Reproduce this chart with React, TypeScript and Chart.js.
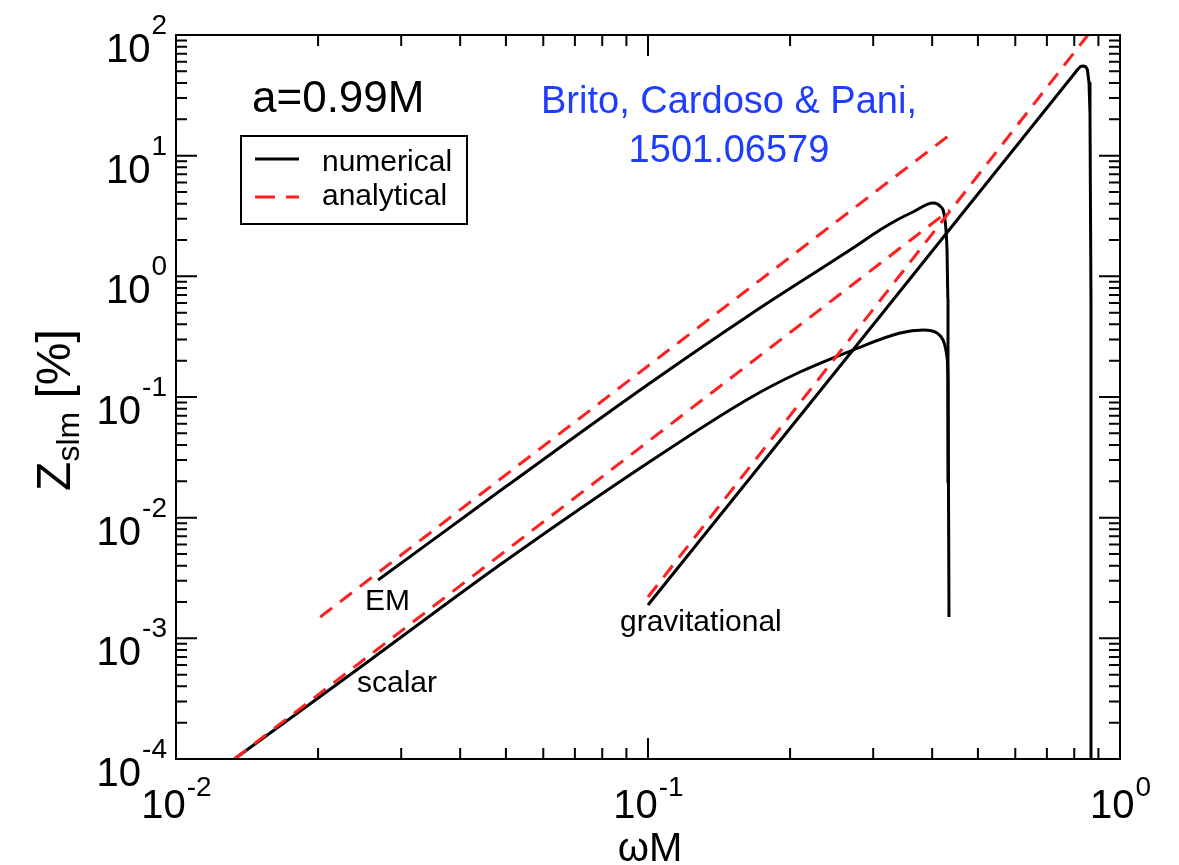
import React, { useEffect, useRef } from 'react';
import { Chart, registerables } from 'chart.js';

Chart.register(...registerables);

// ---- data (ωM, Z_slm in %) ----
const emAnalyticalX = [0.0202, 0.432];
const emAnalyticalY = [0.0015, 14.5];
const scalarAnalyticalX = [0.0133, 0.436];
const scalarAnalyticalY = [0.0001, 3.55];
const gravAnalyticalX = [0.1, 0.855];
const gravAnalyticalY = [0.0022, 100];

const emNumericalX = [0.0268, 0.05, 0.1, 0.1644, 0.2718, 0.31, 0.3368, 0.3641, 0.4016, 0.4155, 0.4258, 0.43, 0.4321, 0.4321];
const emNumericalY = [0.00304, 0.0181, 0.127, 0.481, 1.717, 2.421, 2.93, 3.414, 4.054, 3.828, 2.93, 1.653, 0.637, 0.0194];

const scalarNumericalX = [0.0133, 0.0258, 0.0485, 0.101, 0.1644, 0.2099, 0.2718, 0.342, 0.383, 0.4095, 0.4217, 0.43, 0.4321, 0.4342];
const scalarNumericalY = [0.0001, 0.000662, 0.00405, 0.0292, 0.0982, 0.1611, 0.245, 0.339, 0.359, 0.339, 0.297, 0.2146, 0.1306, 0.0015];

const gravNumericalX = [0.1, 0.2718, 0.815, 0.825, 0.835, 0.846, 0.853, 0.8598, 0.8638, 0.868, 0.868];
const gravNumericalY = [0.00189, 0.245, 52.3, 54.8, 55.3, 54.5, 51.5, 40.0, 22.6, 0.637, 0.00005];

const xDecades = [-2, -1, 0];
const yDecades = [-4, -3, -2, -1, 0, 1, 2];

const legendLabels = ['numerical', 'analytical'];
const curveLabels = ['EM', 'scalar', 'gravitational'];
const spinLabel = 'a=0.99M';
const creditLines = ['Brito, Cardoso & Pani,', '1501.06579'];

const FONT = '"Liberation Sans", Arial, Helvetica, sans-serif';
const RED = '#ff1f1f';

const pts = (xs: number[], ys: number[]) => xs.map((x, i) => ({ x, y: ys[i] }));

const decorPlugin = {
  id: 'decor',
  afterDraw(chart: any) {
    const ctx = chart.ctx as CanvasRenderingContext2D;
    const xs = chart.scales.x;
    const ys = chart.scales.y;
    const { left, right, top, bottom } = chart.chartArea;
    ctx.save();
    ctx.strokeStyle = '#000';
    ctx.fillStyle = '#000';
    ctx.lineWidth = 2;
    ctx.strokeRect(left, top, right - left, bottom - top);

    const majorLen = 21;
    const minorLen = 11;
    ctx.beginPath();
    xDecades.forEach((d) => {
      for (let k = 1; k <= 9; k++) {
        const v = k * Math.pow(10, d);
        if (v > 1.0000001) break;
        const px = xs.getPixelForValue(v);
        const len = k === 1 ? majorLen : minorLen;
        ctx.moveTo(px, bottom);
        ctx.lineTo(px, bottom - len);
        ctx.moveTo(px, top);
        ctx.lineTo(px, top + len);
      }
    });
    yDecades.forEach((d) => {
      for (let k = 1; k <= 9; k++) {
        const v = k * Math.pow(10, d);
        if (v > 100.0001) break;
        const py = ys.getPixelForValue(v);
        const len = k === 1 ? majorLen : minorLen;
        ctx.moveTo(left, py);
        ctx.lineTo(left + len, py);
        ctx.moveTo(right, py);
        ctx.lineTo(right - len, py);
      }
    });
    ctx.stroke();

    // tick labels
    const baseFont = `40px ${FONT}`;
    const supFont = `28px ${FONT}`;
    ctx.textBaseline = 'alphabetic';
    ctx.textAlign = 'left';
    yDecades.forEach((d) => {
      const py = ys.getPixelForValue(Math.pow(10, d));
      const exp = String(d);
      ctx.font = baseFont;
      const w1 = ctx.measureText('10').width;
      ctx.font = supFont;
      const w2 = ctx.measureText(exp).width;
      const x0 = left - 10 - w1 - w2;
      ctx.font = baseFont;
      ctx.fillText('10', x0, py + 27);
      ctx.font = supFont;
      ctx.fillText(exp, x0 + w1 + 1, py - 1);
    });
    xDecades.forEach((d) => {
      const px = xs.getPixelForValue(Math.pow(10, d));
      const exp = String(d);
      ctx.font = baseFont;
      const w1 = ctx.measureText('10').width;
      ctx.font = supFont;
      const w2 = ctx.measureText(exp).width;
      const x0 = px - (w1 + w2) / 2;
      ctx.font = baseFont;
      ctx.fillText('10', x0, bottom + 59);
      ctx.font = supFont;
      ctx.fillText(exp, x0 + w1 + 1, bottom + 37);
    });

    // x title
    ctx.font = `40px ${FONT}`;
    ctx.textAlign = 'center';
    ctx.fillText('ωM', xs.getPixelForValue(0.1) + 2, 861);

    // y title (rotated)
    ctx.save();
    ctx.translate(70, 410);
    ctx.rotate(-Math.PI / 2);
    ctx.textAlign = 'left';
    const zFont = `48px ${FONT}`;
    const subFont = `32px ${FONT}`;
    ctx.font = zFont;
    const wz = ctx.measureText('Z').width;
    const wp = ctx.measureText(' [%]').width;
    ctx.font = subFont;
    const ws = ctx.measureText('slm').width;
    const total = wz + ws + wp;
    let cx = -total / 2;
    ctx.font = zFont;
    ctx.fillText('Z', cx, 0);
    cx += wz;
    ctx.font = subFont;
    ctx.fillText('slm', cx, 9);
    cx += ws;
    ctx.font = zFont;
    ctx.fillText(' [%]', cx, 0);
    ctx.restore();

    // spin label
    ctx.textAlign = 'left';
    ctx.font = `44px ${FONT}`;
    ctx.fillText(spinLabel, 252, 112);

    // legend
    ctx.lineWidth = 2;
    ctx.strokeRect(241, 136, 226, 88);
    ctx.lineWidth = 3;
    ctx.beginPath();
    ctx.moveTo(255, 159);
    ctx.lineTo(299, 159);
    ctx.stroke();
    ctx.strokeStyle = RED;
    ctx.setLineDash([20, 11]);
    ctx.beginPath();
    ctx.moveTo(255, 197);
    ctx.lineTo(299, 197);
    ctx.stroke();
    ctx.setLineDash([]);
    ctx.font = `30px ${FONT}`;
    ctx.fillStyle = '#000';
    ctx.fillText(legendLabels[0], 322, 171);
    ctx.fillText(legendLabels[1], 322, 205);

    // curve labels
    ctx.font = `30px ${FONT}`;
    ctx.fillText(curveLabels[0], 365, 610);
    ctx.fillText(curveLabels[1], 357, 692);
    ctx.fillText(curveLabels[2], 620, 631);

    // credit
    ctx.fillStyle = '#1f3dff';
    ctx.font = `38px ${FONT}`;
    ctx.textAlign = 'center';
    ctx.fillText(creditLines[0], 729, 113);
    ctx.fillText(creditLines[1], 729, 162);
    ctx.restore();
  },
};

export default function App() {
  const ref = useRef<HTMLCanvasElement | null>(null);
  useEffect(() => {
    const canvas = ref.current;
    if (!canvas) return;
    const solid = { borderColor: '#000', borderWidth: 3, pointRadius: 0, tension: 0.25, cubicInterpolationMode: 'monotone', fill: false };
    const straight = { borderColor: '#000', borderWidth: 3, pointRadius: 0, tension: 0, fill: false };
    const dashed = { borderColor: RED, borderWidth: 3, borderDash: [15, 10], pointRadius: 0, tension: 0, fill: false };
    const chart = new Chart(canvas, {
      type: 'line',
      data: {
        datasets: [
          { label: 'EM analytical', data: pts(emAnalyticalX, emAnalyticalY), ...dashed },
          { label: 'scalar analytical', data: pts(scalarAnalyticalX, scalarAnalyticalY), ...dashed },
          { label: 'gravitational analytical', data: pts(gravAnalyticalX, gravAnalyticalY), ...dashed },
          { label: 'EM numerical', data: pts(emNumericalX, emNumericalY), ...solid },
          { label: 'scalar numerical', data: pts(scalarNumericalX, scalarNumericalY), ...solid },
          { label: 'gravitational numerical', data: pts(gravNumericalX, gravNumericalY), ...straight },
        ] as any,
      },
      options: {
        responsive: false,
        animation: false,
        devicePixelRatio: 1,
        layout: { padding: { left: 176, right: 59, top: 35, bottom: 106 } },
        plugins: { legend: { display: false }, tooltip: { enabled: false } },
        elements: { line: { borderCapStyle: 'butt', borderJoinStyle: 'round' } },
        scales: {
          x: { type: 'logarithmic', min: 0.01, max: 1, display: false },
          y: { type: 'logarithmic', min: 0.0001, max: 100, display: false },
        },
      },
      plugins: [decorPlugin],
    } as any);
    return () => chart.destroy();
  }, []);
  return (
    <div style={{ position: 'fixed', left: 0, top: 0, width: 1179, height: 865, background: '#fff' }}>
      <canvas ref={ref} width={1179} height={865} style={{ width: 1179, height: 865, display: 'block' }} />
    </div>
  );
}
